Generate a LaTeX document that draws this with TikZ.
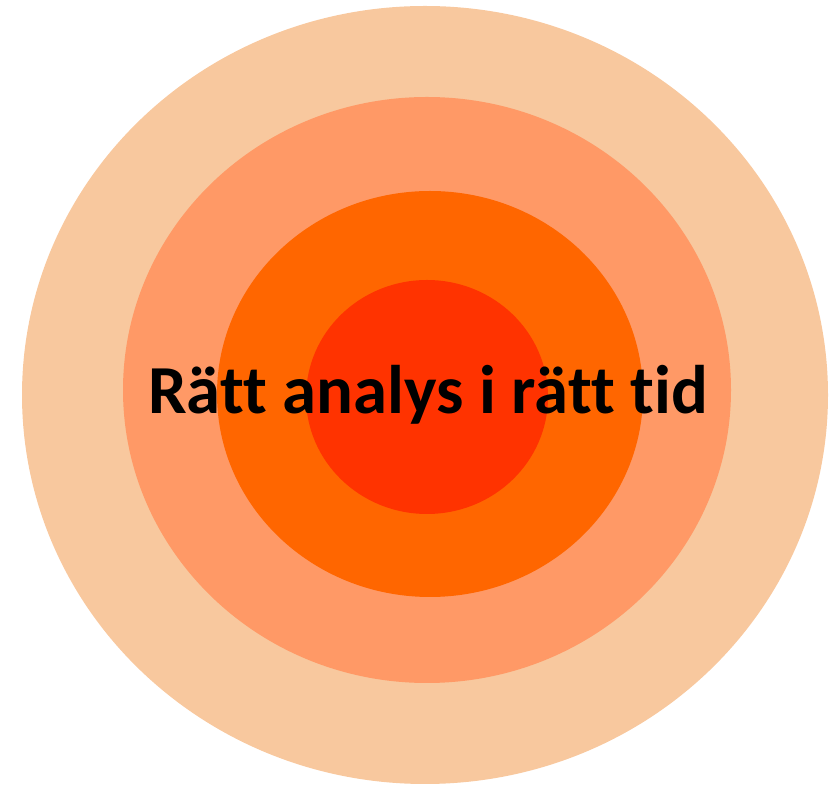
\documentclass[tikz,border=0pt]{standalone}
\usepackage{fontspec}
\setmainfont{Carlito}
\newfontfamily\titelfont[Ligatures=NoCommon]{Carlito}
\definecolor{ringA}{HTML}{F8C89E}
\definecolor{ringB}{HTML}{FF9966}
\definecolor{ringC}{HTML}{FF6600}
\definecolor{ringD}{HTML}{FF3300}
\begin{document}
\begin{tikzpicture}[x=1bp, y=1bp, every node/.style={font=\titelfont\bfseries\fontsize{69}{80}\selectfont}]
  \useasboundingbox (0,0) rectangle (831,785);
  % Ringe von aussen nach innen (Mitte x, Mitte y, Radius x, Radius y, Farbe)
  \foreach \mx/\my/\rx/\ry/\col in {425/390/403/389/ringA, 427/395/304/293/ringB,
                                    430/391/213/203/ringC, 427/388/121/117/ringD}{
    \fill[\col] (\mx,\my) ellipse [x radius=\rx, y radius=\ry];
  }
  % Beschriftung
  \node[anchor=base, inner sep=0pt] (titel) at (428,371) {Rätt analys i rätt tid};
\end{tikzpicture}
\end{document}
